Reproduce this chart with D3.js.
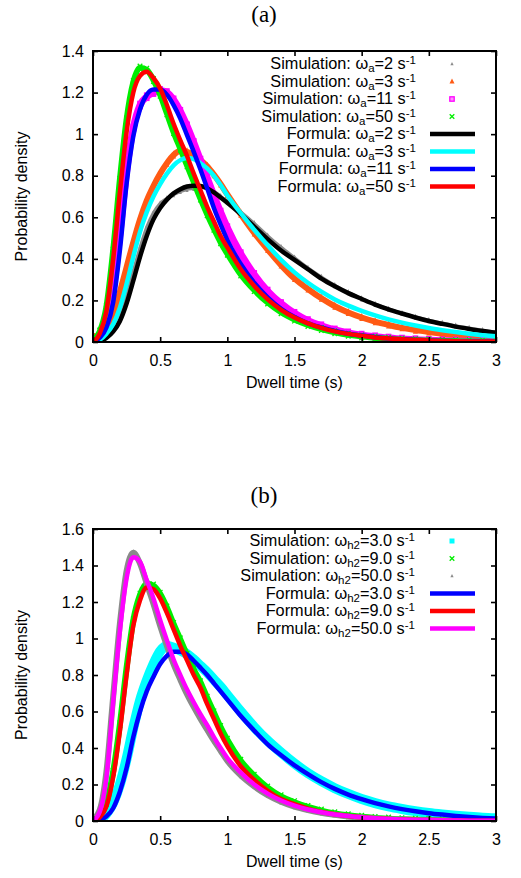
<!DOCTYPE html>
<html><head><meta charset="utf-8">
<script src="https://cdn.jsdelivr.net/npm/d3@7/dist/d3.min.js"></script>
<style>
body{margin:0;background:#fff;}
</style>
</head><body>
<svg id="chart" width="521" height="878" style="font-family:'Liberation Sans',Arial,Helvetica,sans-serif"></svg>
<script>
// ---------- data ----------
const T = [0,0.05,0.1,0.15,0.2,0.25,0.3,0.35,0.4,0.45,0.5,0.55,0.6,0.65,0.7,0.75,0.8,0.85,0.9,0.95,1.0,
           1.1,1.2,1.3,1.4,1.5,1.6,1.7,1.8,1.9,2.0,2.1,2.2,2.3,2.4,2.5,2.6,2.7,2.8,2.9,3.0];
const xTicks = [0,0.5,1,1.5,2,2.5,3];
const xTickLabels = ["0","0.5","1","1.5","2","2.5","3"];
const yTicksA = [0,0.2,0.4,0.6,0.8,1,1.2,1.4];
const yTickLabelsA = ["0","0.2","0.4","0.6","0.8","1","1.2","1.4"];
const yTicksB = [0,0.2,0.4,0.6,0.8,1,1.2,1.4,1.6];
const yTickLabelsB = ["0","0.2","0.4","0.6","0.8","1","1.2","1.4","1.6"];

// panel (a): simulations
const simA_w2  = [0.005,0.012,0.035,0.075,0.14,0.23,0.34,0.45,0.55,0.62,0.665,0.69,0.71,0.725,0.735,0.74,0.745,0.74,0.725,0.70,0.675,
                  0.625,0.57,0.51,0.455,0.405,0.355,0.312,0.272,0.238,0.208,0.182,0.158,0.138,0.12,0.104,0.09,0.077,0.066,0.056,0.048];
const simA_w3  = [0.03,0.02,0.06,0.13,0.24,0.36,0.48,0.59,0.68,0.75,0.81,0.86,0.90,0.92,0.915,0.90,0.875,0.845,0.805,0.76,0.71,
                  0.615,0.525,0.445,0.37,0.305,0.255,0.21,0.172,0.142,0.118,0.098,0.082,0.068,0.057,0.048,0.04,0.033,0.028,0.023,0.02];
const simA_w11 = [0.01,0.025,0.09,0.25,0.52,0.82,1.03,1.14,1.18,1.20,1.21,1.20,1.165,1.11,1.04,0.96,0.875,0.79,0.705,0.625,0.55,
                  0.425,0.325,0.245,0.185,0.138,0.103,0.078,0.058,0.044,0.033,0.025,0.019,0.014,0.011,0.008,0.006,0.005,0.004,0.003,0.002];
const simA_w50 = [0.01,0.05,0.17,0.44,0.78,1.07,1.25,1.32,1.31,1.26,1.19,1.10,1.01,0.93,0.85,0.77,0.69,0.615,0.545,0.48,0.425,
                  0.325,0.25,0.19,0.143,0.108,0.082,0.062,0.047,0.035,0.027,0.02,0.015,0.011,0.008,0.006,0.005,0.004,0.003,0.002,0.001];
// panel (a): formulas
const fA_w2  = [0,0.003,0.02,0.05,0.10,0.185,0.295,0.41,0.51,0.59,0.645,0.685,0.715,0.735,0.748,0.752,0.75,0.74,0.72,0.695,0.67,
                0.615,0.555,0.495,0.44,0.395,0.35,0.305,0.268,0.235,0.207,0.18,0.157,0.137,0.118,0.101,0.087,0.074,0.063,0.053,0.045];
const fA_w3  = [0,0.01,0.04,0.085,0.165,0.28,0.41,0.53,0.625,0.70,0.76,0.81,0.85,0.875,0.885,0.88,0.86,0.835,0.80,0.755,0.705,
                0.62,0.54,0.465,0.395,0.335,0.285,0.242,0.205,0.175,0.15,0.128,0.109,0.093,0.079,0.067,0.057,0.048,0.04,0.033,0.027];
const fA_w11 = [0,0.02,0.07,0.19,0.44,0.76,0.99,1.12,1.19,1.215,1.215,1.19,1.14,1.075,0.995,0.915,0.83,0.74,0.645,0.565,0.49,
                0.375,0.285,0.215,0.16,0.12,0.09,0.07,0.053,0.04,0.031,0.023,0.017,0.013,0.01,0.007,0.005,0.004,0.003,0.002,0.002];
const fA_w50 = [0,0.04,0.15,0.40,0.72,1.01,1.20,1.28,1.30,1.27,1.22,1.14,1.05,0.97,0.895,0.81,0.73,0.65,0.58,0.51,0.455,
                0.35,0.27,0.205,0.155,0.118,0.09,0.068,0.051,0.039,0.03,0.022,0.017,0.013,0.01,0.007,0.005,0.004,0.003,0.002,0.002];

// panel (b): simulations
const simB_h3  = [0.01,0.01,0.04,0.10,0.20,0.34,0.51,0.66,0.77,0.86,0.93,0.96,0.95,0.935,0.915,0.885,0.85,0.815,0.775,0.735,0.69,
                  0.60,0.515,0.44,0.375,0.315,0.262,0.218,0.18,0.148,0.12,0.098,0.08,0.066,0.054,0.044,0.036,0.029,0.023,0.018,0.015];
const simB_h9  = [0.01,0.03,0.10,0.27,0.53,0.84,1.10,1.24,1.30,1.29,1.245,1.17,1.08,0.995,0.91,0.83,0.76,0.675,0.595,0.515,0.445,
                  0.33,0.248,0.183,0.135,0.103,0.077,0.057,0.042,0.031,0.023,0.017,0.013,0.009,0.007,0.005,0.004,0.003,0.002,0.002,0.001];
const simB_h50 = [0.01,0.06,0.27,0.68,1.08,1.37,1.47,1.41,1.30,1.19,1.07,0.96,0.86,0.775,0.695,0.625,0.56,0.50,0.44,0.385,0.33,
                  0.25,0.19,0.142,0.106,0.079,0.06,0.045,0.034,0.025,0.019,0.014,0.01,0.008,0.006,0.004,0.003,0.002,0.002,0.001,0.001];
// panel (b): formulas
const fB_h3  = [0,0.005,0.025,0.07,0.16,0.29,0.46,0.60,0.71,0.79,0.86,0.905,0.928,0.928,0.912,0.878,0.84,0.80,0.755,0.71,0.665,
                0.575,0.495,0.42,0.36,0.305,0.257,0.213,0.176,0.145,0.12,0.098,0.08,0.065,0.053,0.043,0.035,0.028,0.022,0.017,0.013];
const fB_h9  = [0,0.02,0.08,0.24,0.49,0.80,1.07,1.21,1.28,1.27,1.22,1.14,1.05,0.96,0.88,0.80,0.73,0.64,0.56,0.48,0.41,
                0.30,0.225,0.165,0.12,0.092,0.068,0.05,0.037,0.027,0.02,0.015,0.011,0.008,0.006,0.005,0.004,0.003,0.002,0.002,0.001];
const fB_h50 = [0,0.05,0.24,0.65,1.04,1.33,1.445,1.42,1.32,1.22,1.10,0.99,0.885,0.80,0.72,0.65,0.585,0.525,0.46,0.40,0.345,
                0.265,0.20,0.15,0.112,0.084,0.063,0.048,0.036,0.027,0.02,0.015,0.011,0.008,0.006,0.005,0.004,0.003,0.002,0.002,0.001];

// legend text pieces
const legA_kind = ["Simulation: ","Simulation: ","Simulation: ","Simulation: ","Formula: ","Formula: ","Formula: ","Formula: "];
const legA_val  = ["=2 s","=3 s","=11 s","=50 s","=2 s","=3 s","=11 s","=50 s"];
const legB_kind = ["Simulation: ","Simulation: ","Simulation: ","Formula: ","Formula: ","Formula: "];
const legB_val  = ["=3.0 s","=9.0 s","=50.0 s","=3.0 s","=9.0 s","=50.0 s"];

// ---------- drawing ----------
const svg = d3.select("#chart");
const FS = 16;
const SANS = "'Liberation Sans',Arial,Helvetica,sans-serif";

function marker(g, type, cx, cy, color, inLegend) {
  if (type === "tri" || type === "triS") {
    const s = type === "tri" ? 5 : 3.2;
    g.append("path")
      .attr("d", `M${cx},${cy - s*0.6}L${cx + s/2},${cy + s*0.4}L${cx - s/2},${cy + s*0.4}Z`)
      .attr("fill", color);
  } else if (type === "sq") {
    g.append("rect").attr("x", cx - 2.5).attr("y", cy - 2.5).attr("width", 5).attr("height", 5)
      .attr("fill", color);
  } else if (type === "sqo") {
    g.append("rect").attr("x", cx - 2.2).attr("y", cy - 2.2).attr("width", 4.4).attr("height", 4.4)
      .attr("fill", inLegend ? "#ff90ff" : color).attr("stroke", color).attr("stroke-width", 1.3);
  } else if (type === "x") {
    g.append("path").attr("d", `M${cx-2.3},${cy-2.3}L${cx+2.3},${cy+2.3}M${cx-2.3},${cy+2.3}L${cx+2.3},${cy-2.3}`)
      .attr("stroke", color).attr("stroke-width", 1.3);
  }
}

function drawPanel(cfg) {
  const x = d3.scaleLinear().domain([0, 3]).range([93, 496]);
  const y = d3.scaleLinear().domain([0, cfg.ymax]).range([cfg.bottom, cfg.top]);
  const g = svg.append("g");
  const clipId = "clip" + cfg.id;
  svg.append("clipPath").attr("id", clipId).append("rect")
    .attr("x", 93).attr("y", cfg.top).attr("width", 403).attr("height", cfg.bottom - cfg.top);

  const line = d3.line().x((d, i) => x(T[i])).y(d => y(d)).curve(d3.curveMonotoneX);
  const plot = g.append("g").attr("clip-path", `url(#${clipId})`);

  // simulations (dense bands of markers)
  cfg.sims.forEach(s => {
    plot.append("path").datum(s.data).attr("d", line)
      .attr("fill", "none").attr("stroke", s.color).attr("stroke-width", s.band)
      .attr("stroke-linejoin", "round").attr("stroke-linecap", "round");
    const mg = plot.append("g");
    s.data.forEach((v, i) => marker(mg, s.marker, x(T[i]), y(v) - 1.5, s.color, false));
    s.data.forEach((v, i) => marker(mg, s.marker, x(T[i]), y(v) + 1.5, s.color, false));
  });
  // formulas
  cfg.forms.forEach(f => {
    plot.append("path").datum(f.data).attr("d", line)
      .attr("fill", "none").attr("stroke", f.color).attr("stroke-width", 4.5)
      .attr("stroke-linejoin", "round");
  });

  // axes (inward ticks on all four sides)
  const ax = (a) => a.tickSizeOuter(0);
  const bottom = g.append("g").attr("transform", `translate(0,${cfg.bottom})`)
    .call(ax(d3.axisBottom(x).tickValues(xTicks).tickFormat((d, i) => xTickLabels[i]).tickSizeInner(-5).tickPadding(12.5)));
  const top = g.append("g").attr("transform", `translate(0,${cfg.top})`)
    .call(ax(d3.axisTop(x).tickValues(xTicks).tickFormat("").tickSizeInner(-5)));
  const left = g.append("g").attr("transform", `translate(93,0)`)
    .call(ax(d3.axisLeft(y).tickValues(cfg.yTicks).tickFormat((d, i) => cfg.yLabels[i]).tickSizeInner(-5).tickPadding(9)));
  const right = g.append("g").attr("transform", `translate(496,0)`)
    .call(ax(d3.axisRight(y).tickValues(cfg.yTicks).tickFormat("").tickSizeInner(-5)));
  [bottom, top, left, right].forEach(a => {
    a.attr("font-family", null).attr("font-size", null);
    a.select(".domain").remove();
    a.selectAll(".tick line").attr("stroke", "#000").attr("stroke-width", 1.6);
    a.selectAll("text").style("font-family", SANS).attr("font-size", FS).attr("fill", "#000");
  });
  g.append("rect").attr("x", 93).attr("y", cfg.top).attr("width", 403).attr("height", cfg.bottom - cfg.top)
    .attr("fill", "none").attr("stroke", "#000").attr("stroke-width", 2);

  // axis titles
  g.append("text").attr("x", 294.5).attr("y", cfg.bottom + 46).attr("text-anchor", "middle")
    .style("font-family", SANS).attr("font-size", FS).text("Dwell time (s)");
  g.append("text").attr("transform", `translate(27,${(cfg.top + cfg.bottom) / 2}) rotate(-90)`)
    .attr("text-anchor", "middle").style("font-family", SANS).attr("font-size", FS).text("Probability density");
  // panel title
  g.append("text").attr("x", 264).attr("y", cfg.titleY).attr("text-anchor", "middle")
    .style("font-family", "'Liberation Serif','DejaVu Serif',serif").attr("font-size", 23).text(cfg.title);

  // legend
  const entries = cfg.sims.map(s => ({type: "sim", s})).concat(cfg.forms.map(f => ({type: "form", s: f})));
  entries.forEach((e, i) => {
    const by = cfg.legY + i * 17.5;
    const t = g.append("text").attr("x", cfg.legX).attr("y", by).attr("text-anchor", "end")
      .style("font-family", SANS).attr("font-size", 16.3);
    t.append("tspan").text(cfg.legKind[i] + "\u03c9");
    t.append("tspan").attr("font-size", 11.5).attr("dy", 3).text(cfg.sub);
    t.append("tspan").attr("font-size", 16.3).attr("dy", -3).text(cfg.legVal[i]);
    t.append("tspan").attr("font-size", 11.5).attr("dy", -5).text("-1");
    const cy = by - 5;
    if (e.type === "sim") {
      marker(g, e.s.marker, 452, cy, e.s.color, true);
    } else {
      g.append("line").attr("x1", 430).attr("x2", 475).attr("y1", cy).attr("y2", cy)
        .attr("stroke", e.s.color).attr("stroke-width", 4.5);
    }
  });
}

drawPanel({
  id: "a", title: "(a)", titleY: 21.5, top: 51, bottom: 342, ymax: 1.4,
  yTicks: yTicksA, yLabels: yTickLabelsA, sub: "a",
  legX: 416, legY: 69, legKind: legA_kind, legVal: legA_val,
  sims: [
    {data: simA_w2,  color: "#8a8a8a", marker: "triS", band: 3.5},
    {data: simA_w3,  color: "#ff5a14", marker: "tri",  band: 6},
    {data: simA_w11, color: "#ff00ff", marker: "sqo",  band: 7},
    {data: simA_w50, color: "#00ee00", marker: "x",    band: 6}
  ],
  forms: [
    {data: fA_w2,  color: "#000000"},
    {data: fA_w3,  color: "#00ffff"},
    {data: fA_w11, color: "#0000ff"},
    {data: fA_w50, color: "#ff0000"}
  ]
});

drawPanel({
  id: "b", title: "(b)", titleY: 503, top: 529, bottom: 821, ymax: 1.6,
  yTicks: yTicksB, yLabels: yTickLabelsB, sub: "h2",
  legX: 415, legY: 546, legKind: legB_kind, legVal: legB_val,
  sims: [
    {data: simB_h3,  color: "#00ffff", marker: "sq",   band: 10},
    {data: simB_h9,  color: "#00ee00", marker: "x",    band: 6},
    {data: simB_h50, color: "#8a8a8a", marker: "triS", band: 6}
  ],
  forms: [
    {data: fB_h3,  color: "#0000ff"},
    {data: fB_h9,  color: "#ff0000"},
    {data: fB_h50, color: "#ff00ff"}
  ]
});
</script>
</body></html>
